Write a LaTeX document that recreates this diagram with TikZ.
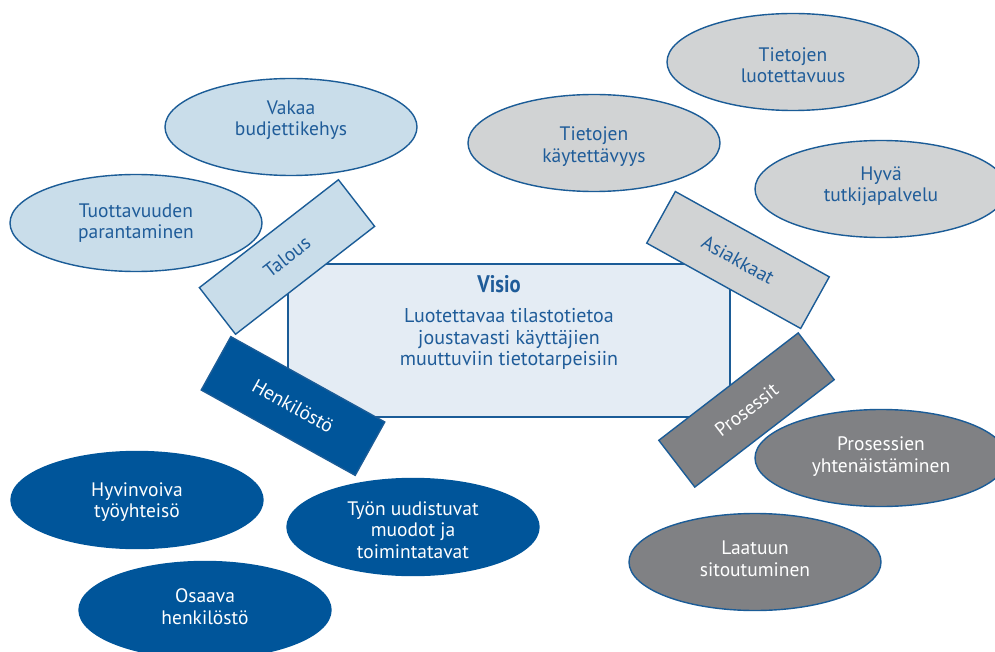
\documentclass[tikz,border=0pt]{standalone}
\usepackage{fontspec}
\setmainfont{PT Sans}
\usetikzlibrary{shapes.geometric}
\definecolor{edgeblue}{HTML}{1B5C97}
\definecolor{textblue}{HTML}{1F5C99}
\definecolor{lightblue}{HTML}{C9DDEA}
\definecolor{paleblue}{HTML}{E4ECF4}
\definecolor{lightgrey}{HTML}{D1D3D4}
\definecolor{darkgrey}{HTML}{808184}
\definecolor{deepblue}{HTML}{00559A}
\tikzset{
  oval/.style={ellipse, draw=edgeblue, line width=1.4pt, minimum width=252pt, minimum height=97pt, inner sep=0pt},
  ovlight/.style={oval, fill=lightblue},
  ovgrey/.style={oval, fill=lightgrey},
  ovdark/.style={oval, fill=darkgrey},
  ovdeep/.style={oval, fill=deepblue, draw=deepblue},
  ovtext/.style={align=center, inner sep=0pt, font=\fontsize{19.5}{21.5}\selectfont},
  tag/.style={rectangle, draw=edgeblue, line width=1.4pt, minimum width=176pt, minimum height=59pt,
    inner sep=0pt, font=\fontsize{19.5}{21.5}\selectfont},
  visionbox/.style={rectangle, draw=edgeblue, line width=1.4pt, fill=paleblue, minimum width=442pt, minimum height=153pt, inner sep=0pt},
}
\begin{document}
\begin{tikzpicture}[x=1pt,y=-1pt]
\clip (0,0) rectangle (995,652);
\fill[white] (0,0) rectangle (995,652);
% ellipses
\node[ovlight] (vakaa) at (291,127) {};
\node[ovlight] (tuott) at (136,223) {};
\node[ovgrey] (luot) at (793,62) {};
\node[ovgrey] (kayt) at (594,143) {};
\node[ovgrey] (hyva) at (881,189) {};
\node[ovdark] (yhten) at (881,458) {};
\node[ovdark] (laatu) at (755,562) {};
\node[ovdeep] (hyvin) at (137,500) {};
\node[ovdeep] (tyon) at (413,527) {};
\node[ovdeep] (osaava) at (205,610) {};
% ellipse texts
\node[ovtext, text=textblue] (vakaa-t) at ([yshift=7pt]vakaa.center) {Vakaa\\budjettikehys};
\node[ovtext, text=textblue] (tuott-t) at (tuott.center) {Tuottavuuden\\parantaminen};
\node[ovtext, text=textblue] (luot-t) at ([yshift=-3pt]luot.center) {Tietojen\\luotettavuus};
\node[ovtext, text=textblue] (kayt-t) at ([yshift=-3.5pt]kayt.center) {Tietojen\\käytettävyys};
\node[ovtext, text=textblue] (hyva-t) at ([yshift=3pt]hyva.center) {Hyvä\\tutkijapalvelu};
\node[ovtext, text=white] (yhten-t) at ([yshift=1.5pt]yhten.center) {Prosessien\\yhtenäistäminen};
\node[ovtext, text=white] (laatu-t) at ([yshift=3pt]laatu.center) {Laatuun\\sitoutuminen};
\node[ovtext, text=white] (hyvin-t) at ([yshift=-2pt]hyvin.center) {Hyvinvoiva\\työyhteisö};
\node[ovtext, text=white] (tyon-t) at ([yshift=-3pt]tyon.center) {Työn uudistuvat\\muodot ja\\toimintatavat};
\node[ovtext, text=white] (osaava-t) at ([yshift=3.5pt]osaava.center) {Osaava\\henkilöstö};
% vision box
\node[visionbox] (visio) at (509,340.5) {};
\node[text=textblue, font=\fontsize{24}{26}\selectfont\bfseries, anchor=base] (vtitle) at (499,292) {\scalebox{0.86}[1]{Visio}};
\node[text=textblue, align=center, inner sep=0pt, font=\fontsize{20}{21.5}\selectfont] (vtext) at (509,339)
  {Luotettavaa tilastotietoa\\joustavasti käyttäjien\\muuttuviin tietotarpeisiin};
% tags
\node[tag, fill=lightblue, text=textblue, rotate=37.8] (talous) at (287,257) {Talous};
\node[tag, fill=lightgrey, text=textblue, rotate=-29] (asiak) at (738,260) {Asiakkaat};
\node[tag, fill=deepblue, text=white, rotate=-29, minimum height=61pt] (henk) at (293,406) {Henkilöstö};
\node[tag, fill=darkgrey, text=white, rotate=37.6] (pros) at (746.5,410) {Prosessit};
\end{tikzpicture}
\end{document}
